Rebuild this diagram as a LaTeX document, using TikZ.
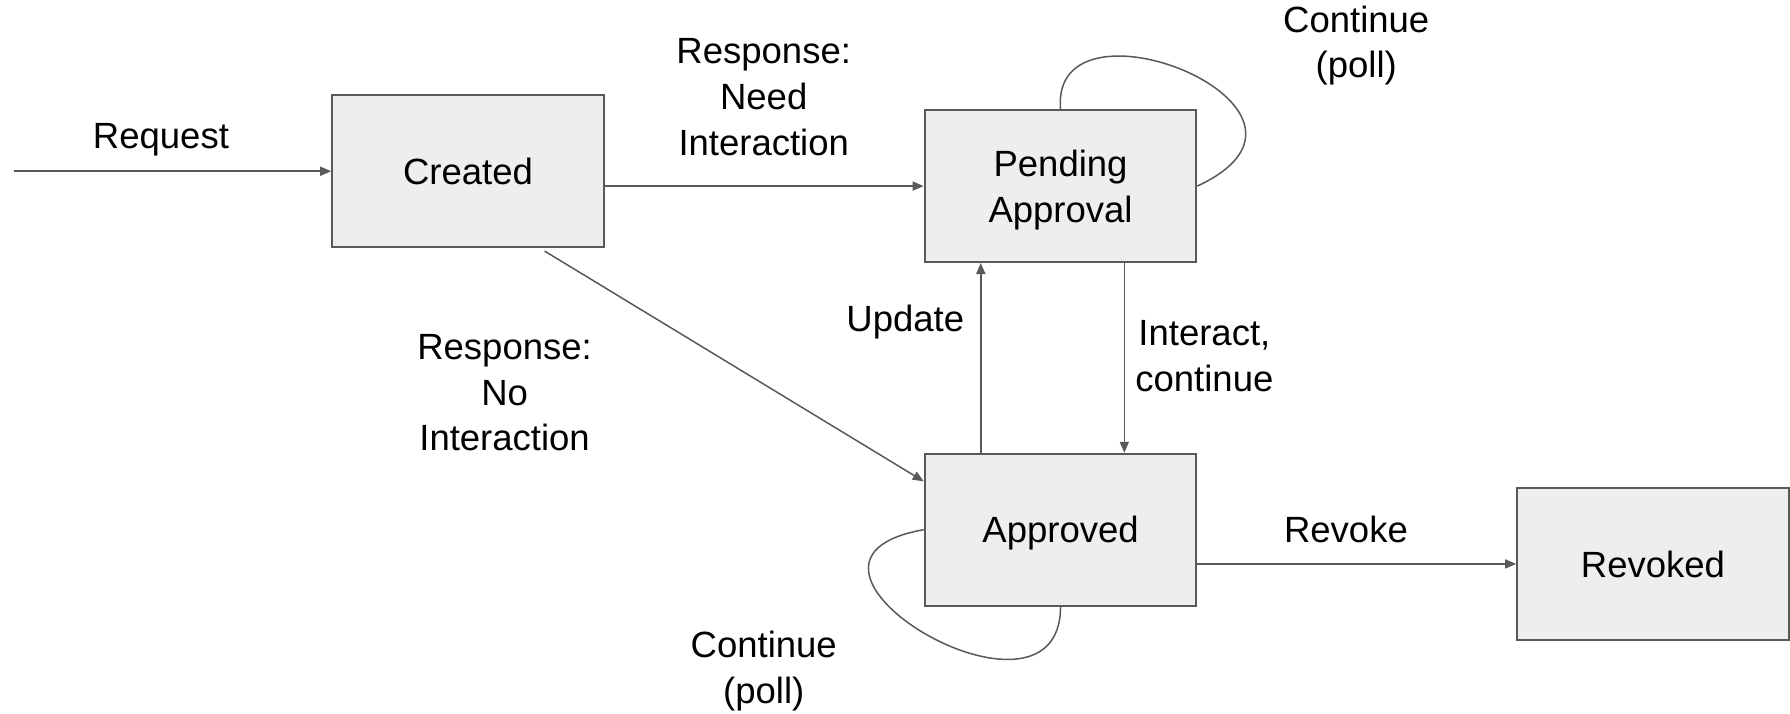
\documentclass[tikz,border=0pt]{standalone}
\usepackage{fontspec}
\setmainfont{Liberation Sans}
\usetikzlibrary{arrows.meta}
\definecolor{boxfill}{RGB}{238,238,238}
\definecolor{boxline}{RGB}{89,89,89}

\begin{document}
\begin{tikzpicture}[x=0.02cm, y=-0.02cm, font=\fontsize{18.2}{22.8}\selectfont,
  state/.style={draw=boxline, fill=boxfill, line width=1pt, minimum width=4.76cm,
    minimum height=2.66cm, inner sep=0pt, align=center, text depth=0pt},
  edge/.style={draw=boxline, line width=0.75pt, -{Triangle[length=5.5pt,width=4.5pt]}},
  selfloop/.style={draw=boxline, line width=0.75pt}]
  \useasboundingbox (0,0) rectangle (1568,625);

  % states
  \node[state] (created) at (410,150) {Created};
  \node[state] (pending) at (929,163) {Pending\\Approval};
  \node[state] (approved) at (929,464) {Approved};
  \node[state] (revoked) at (1448,494) {Revoked};
  \coordinate (reqstart) at (12,150);

  % transitions
  \draw[edge] (reqstart) -- (created.west);
  \draw[edge] (created.east |- pending.west) -- (pending.west);
  \draw[edge, shorten <=0.1cm] (created.-47.7) -- ([yshift=-0.5cm]approved.north west);
  \draw[edge] ([xshift=1cm]approved.north west) -- ([xshift=1cm]pending.south west);
  \draw[edge] ([xshift=-1.28cm]pending.south east) -- ([xshift=-1.28cm]approved.north east);
  \draw[edge] (approved.east |- revoked.west) -- (revoked.west);
  \draw[selfloop] (pending.north) .. controls +(95:2.2cm) and +(25:3.2cm) .. (pending.east); % poll while pending
  \draw[selfloop] (approved.west) .. controls +(190:3.2cm) and +(270:2.5cm) .. (approved.south); % poll when approved

  % labels
  \node[text depth=0pt] (lblrequest) at (141,119) {Request};
  \node[align=center] (lblneed) at (669,85) {Response:\\Need\\Interaction};
  \node[align=center] (lblnoint) at (442,344) {Response:\\No\\Interaction};
  \node[text depth=0pt] (lblupdate) at (793,279) {Update};
  \node[align=center] (lblinteract) at (1055,312) {Interact,\\continue};
  \node (lblrevoke) at (1179,464) {Revoke};
  \node[align=center] (lblpollp) at (1188,40) {Continue\\(poll)};
  \node[align=center] (lblpolla) at (669,588) {Continue\\(poll)};
\end{tikzpicture}
\end{document}
